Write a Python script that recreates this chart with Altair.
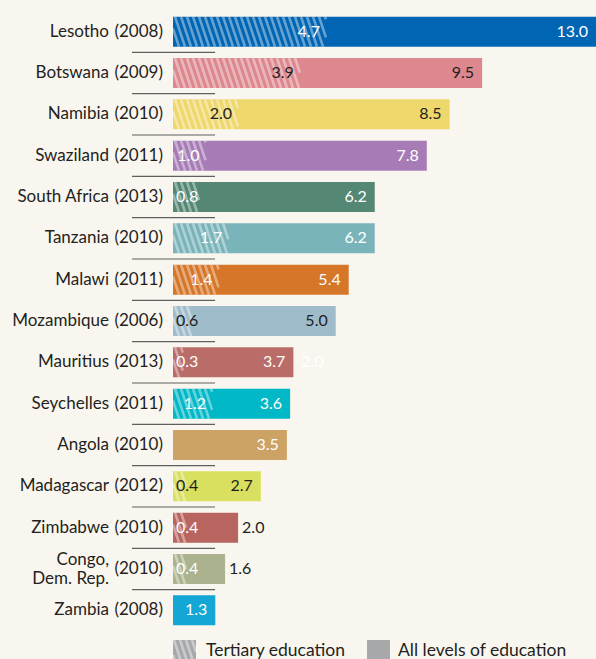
import altair as alt
import pandas as pd

# ---------------- data ----------------
countries = ["Lesotho", "Botswana", "Namibia", "Swaziland", "South Africa", "Tanzania",
             "Malawi", "Mozambique", "Mauritius", "Seychelles", "Angola", "Madagascar",
             "Zimbabwe", "Congo,\nDem. Rep.", "Zambia"]
years = ["(2008)", "(2009)", "(2010)", "(2011)", "(2013)", "(2010)", "(2011)", "(2006)",
         "(2013)", "(2011)", "(2010)", "(2012)", "(2010)", "(2010)", "(2008)"]
all_levels = [13.0, 9.5, 8.5, 7.8, 6.2, 6.2, 5.4, 5.0, 3.7, 3.6, 3.5, 2.7, 2.0, 1.6, 1.3]
tertiary = [4.7, 3.9, 2.0, 1.0, 0.8, 1.7, 1.4, 0.6, 0.3, 1.2, None, 0.4, 0.4, 0.4, None]
bar_colors = ["#0066b3", "#dd878f", "#eed76b", "#a77cb6", "#548774", "#7ab4bb",
              "#d67628", "#9fbccb", "#b96c68", "#00b8c6", "#cca265", "#d9e05f",
              "#b9655f", "#aab38d", "#14a6d4"]
total_label_colors = ["white", "#231f20", "#231f20", "white", "white", "white", "white",
                      "#231f20", "white", "white", "white", "#231f20", "#231f20",
                      "#231f20", "white"]
tert_label_colors = ["white", "#231f20", "#231f20", "white", "white", "white", "white",
                     "#231f20", "white", "white", None, "#231f20", "white", "white", None]
# stray label printed beside the Mauritius bar in the original
stray_labels = [("Mauritius", 3.7, "2.0")]
legend_labels = ["Tertiary education", "All levels of education"]

# ---------------- layout constants ----------------
W, H = 423, 620
XMAX = 13.0
NROW = len(countries)
PXX = W / XMAX
PXY = H / NROW
HALF = 15 / PXY
BG = "#f9f6ef"
FONT = "Lato"
TXT = "#231f20"

xs = alt.Scale(domain=[0, XMAX], range=[0, W], nice=False, zero=True)
ys = alt.Scale(domain=[-0.5, NROW - 0.5], range=[0, H], nice=False, zero=False)

rows = []
for i, c in enumerate(countries):
    rows.append(dict(idx=i, country=c, year=years[i], v=all_levels[i], t=tertiary[i],
                     color=bar_colors[i], tc=total_label_colors[i], ttc=tert_label_colors[i],
                     y0=i - HALF, y1=i + HALF, zero=0.0, multi="\n" in c))
df = pd.DataFrame(rows)


def stripes(x0, x1, ytop, ybot):
    out = []
    h_px = (ybot - ytop) * PXY
    slant = (h_px / 3) / PXX
    sp = 6 / PXX
    s = x0 - slant
    while s < x1:
        u0 = max(0.0, (x0 - s) / slant)
        u1 = min(1.0, (x1 - s) / slant)
        if u1 > u0:
            out.append(dict(xa=s + u0 * slant, xb=s + u1 * slant,
                            ya=ytop + u0 * (ybot - ytop), yb=ytop + u1 * (ybot - ytop)))
        s += sp
    return out


hatch = []
for r in rows:
    if r["t"] is not None:
        hatch += stripes(0, r["t"], r["y0"], r["y1"])
# legend hatch square (placed below the plot)
LEG_TOP, LEG_BOT = 629, 662
leg_y0 = -0.5 + LEG_TOP / PXY
leg_y1 = -0.5 + LEG_BOT / PXY
hatch += stripes(0, 23 / PXX, leg_y0, leg_y1)
hdf = pd.DataFrame(hatch)

one = pd.DataFrame({"a": [0]})

# ---------------- layers ----------------
bars = alt.Chart(df).mark_rect().encode(
    x=alt.X("v:Q", scale=xs, axis=None), x2="zero:Q",
    y=alt.Y("y0:Q", scale=ys, axis=None), y2="y1:Q",
    fill=alt.Fill("color:N", scale=None))

leg_rect1 = alt.Chart(one).mark_rect(fill="#a7a8aa").encode(
    x=alt.value(0), x2=alt.value(23), y=alt.value(LEG_TOP), y2=alt.value(LEG_BOT))
leg_rect2 = alt.Chart(one).mark_rect(fill="#a7a8aa").encode(
    x=alt.value(194), x2=alt.value(217), y=alt.value(LEG_TOP), y2=alt.value(LEG_BOT))

hatch_layer = alt.Chart(hdf).mark_rule(color="white", opacity=0.4, strokeWidth=2.6, strokeCap="butt").encode(
    x=alt.X("xa:Q", scale=xs, axis=None), x2="xb:Q",
    y=alt.Y("ya:Q", scale=ys, axis=None), y2="yb:Q")

seps = alt.Chart(pd.DataFrame({"yy": [i + 0.5 for i in range(NROW - 1)]})).mark_rule(
    color="#5f5f5f", strokeWidth=1.2).encode(
    x=alt.value(-41), x2=alt.value(42),
    y=alt.Y("yy:Q", scale=ys, axis=None))

country_single = alt.Chart(df[~df["multi"]]).mark_text(
    align="right", baseline="middle", font=FONT, fontSize=17, color=TXT).encode(
    x=alt.value(-64), y=alt.Y("idx:Q", scale=ys, axis=None), text="country:N")

country_multi = alt.Chart(df[df["multi"]]).mark_text(
    align="right", baseline="middle", font=FONT, fontSize=17, color=TXT,
    lineBreak="\n", lineHeight=19, dy=-9.5).encode(
    x=alt.value(-64), y=alt.Y("idx:Q", scale=ys, axis=None), text="country:N")

year_text = alt.Chart(df).mark_text(align="right", baseline="middle", font=FONT, fontSize=17,
                                    color=TXT).encode(
    x=alt.value(-10), y=alt.Y("idx:Q", scale=ys, axis=None), text="year:N")

tdf = df[df["t"].notna()].copy()
tdf["lab"] = tdf["t"].map(lambda v: f"{v:.1f}")
tdf["inside"] = tdf["t"] * PXX >= 30

tert_right = alt.Chart(tdf[tdf["inside"]]).mark_text(align="right", baseline="middle", dx=-6,
                                                     font=FONT, fontSize=16).encode(
    x=alt.X("t:Q", scale=xs, axis=None), y=alt.Y("idx:Q", scale=ys, axis=None),
    text="lab:N", color=alt.Color("ttc:N", scale=None))

tert_left = alt.Chart(tdf[~tdf["inside"]]).mark_text(align="left", baseline="middle", dx=3,
                                                     font=FONT, fontSize=16).encode(
    x=alt.X("zero:Q", scale=xs, axis=None), y=alt.Y("idx:Q", scale=ys, axis=None),
    text="lab:N", color=alt.Color("ttc:N", scale=None))

vdf = df.copy()
vdf["lab"] = vdf["v"].map(lambda v: f"{v:.1f}")
vdf["outside"] = (vdf["v"] <= 2.0) & vdf["t"].notna()

tot_in = alt.Chart(vdf[~vdf["outside"]]).mark_text(align="right", baseline="middle", dx=-8,
                                                   font=FONT, fontSize=16).encode(
    x=alt.X("v:Q", scale=xs, axis=None), y=alt.Y("idx:Q", scale=ys, axis=None),
    text="lab:N", color=alt.Color("tc:N", scale=None))

tot_out = alt.Chart(vdf[vdf["outside"]]).mark_text(align="left", baseline="middle", dx=4,
                                                   font=FONT, fontSize=16).encode(
    x=alt.X("v:Q", scale=xs, axis=None), y=alt.Y("idx:Q", scale=ys, axis=None),
    text="lab:N", color=alt.Color("tc:N", scale=None))

sdf = pd.DataFrame([dict(idx=countries.index(c), v=v, lab=l) for c, v, l in stray_labels])
stray = alt.Chart(sdf).mark_text(align="left", baseline="middle", dx=8, font=FONT, fontSize=16,
                                 color="white").encode(
    x=alt.X("v:Q", scale=xs, axis=None), y=alt.Y("idx:Q", scale=ys, axis=None), text="lab:N")

legend_t1 = alt.Chart(pd.DataFrame({"k": [legend_labels[0]]})).mark_text(
    align="left", baseline="middle", font=FONT, fontSize=17.5, color=TXT).encode(
    x=alt.value(33), y=alt.value(640), text="k:N")
legend_t2 = alt.Chart(pd.DataFrame({"k": [legend_labels[1]]})).mark_text(
    align="left", baseline="middle", font=FONT, fontSize=17.5, color=TXT).encode(
    x=alt.value(225), y=alt.value(640), text="k:N")

chart = alt.layer(
    bars, leg_rect1, leg_rect2, hatch_layer, seps, country_single, country_multi, year_text,
    tert_right, tert_left, tot_in, tot_out, stray, legend_t1, legend_t2
).properties(
    width=W, height=H, background=BG,
    padding={"left": 173, "right": 0, "top": 11, "bottom": 28},
    autosize=alt.AutoSizeParams(type="none"),
).configure_view(stroke=None)

chart.save("out.html", embed_options={"renderer": "svg", "actions": False})
